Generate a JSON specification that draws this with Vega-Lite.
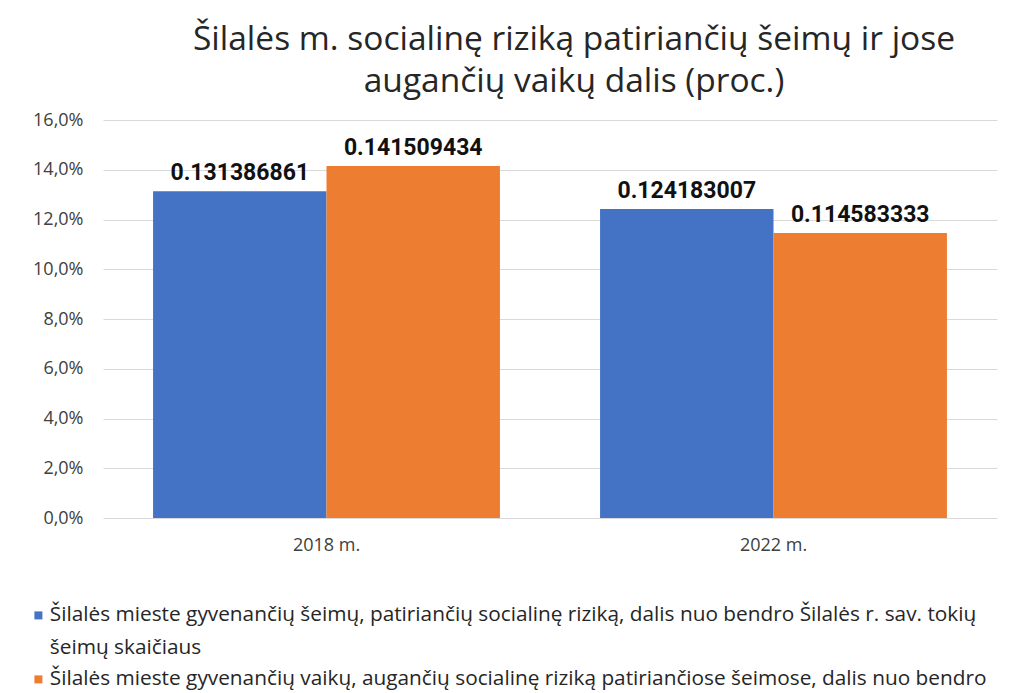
{
  "$schema": "https://vega.github.io/schema/vega-lite/v6.json",
  "autosize": "none",
  "width": 894,
  "height": 398,
  "padding": {"left": 103, "top": 120, "right": 22, "bottom": 175},
  "background": "white",
  "title": {
    "text": ["Šilalės m. socialinę riziką patiriančių šeimų ir jose", "augančių vaikų dalis (proc.)"],
    "font": "Open Sans",
    "fontSize": 33.5,
    "fontWeight": "normal",
    "color": "#262626",
    "anchor": "middle",
    "dx": 24,
    "offset": 12,
    "lineHeight": 42
  },
  "data": {
    "values": [
      {"metai": "2018 m.", "serija": "seimos", "dalis": 0.131386861},
      {"metai": "2018 m.", "serija": "vaikai", "dalis": 0.141509434},
      {"metai": "2022 m.", "serija": "seimos", "dalis": 0.124183007},
      {"metai": "2022 m.", "serija": "vaikai", "dalis": 0.114583333}
    ]
  },
  "config": {
    "view": {"stroke": null},
    "font": "Open Sans",
    "style": {"guide-label": {"lineHeight": 33}}
  },
  "encoding": {
    "x": {
      "field": "metai",
      "type": "nominal",
      "scale": {"paddingInner": 0.224, "paddingOuter": 0.112},
      "axis": {
        "title": null,
        "labelAngle": 0,
        "domain": false,
        "ticks": false,
        "labelFontSize": 18,
        "labelColor": "#404040",
        "labelPadding": 18
      }
    },
    "xOffset": {"field": "serija", "type": "nominal", "scale": {"domain": ["seimos", "vaikai"], "paddingInner": 0, "paddingOuter": 0}},
    "y": {
      "field": "dalis",
      "type": "quantitative",
      "scale": {"domain": [0, 0.16]},
      "axis": {
        "title": null,
        "values": [0, 0.02, 0.04, 0.06, 0.08, 0.1, 0.12, 0.14, 0.16],
        "labelExpr": "replace(format(datum.value, '.1%'), '.', ',')",
        "domain": false,
        "ticks": false,
        "labelFontSize": 18,
        "labelColor": "#404040",
        "labelPadding": 20,
        "gridColor": "#d9d9d9",
        "gridWidth": 1
      }
    }
  },
  "layer": [
    {
      "mark": {"type": "bar"},
      "encoding": {
        "color": {
          "field": "serija",
          "type": "nominal",
          "scale": {"domain": ["seimos", "vaikai"], "range": ["#4472C4", "#ED7D31"]},
          "legend": {
            "title": null,
            "orient": "none",
            "legendX": -75,
            "legendY": 485,
            "direction": "vertical",
            "symbolType": "square",
            "symbolSize": 64,
            "symbolStrokeWidth": 0,
            "labelFontSize": 20.8,
            "labelColor": "#262626",
            "labelLimit": 0,
            "labelOffset": 1,
            "rowPadding": 9,
            "labelExpr": "datum.label == 'seimos' ? ['Šilalės mieste gyvenančių šeimų, patiriančių socialinę riziką, dalis nuo bendro Šilalės r. sav. tokių', 'šeimų skaičiaus'] : ['Šilalės mieste gyvenančių vaikų, augančių socialinę riziką patiriančiose šeimose, dalis nuo bendro', 'Šilalės r. sav. tokių vaikų skaičiaus']"
          }
        }
      }
    },
    {
      "mark": {"type": "text", "dy": -6, "fontSize": 23, "fontWeight": "bold", "font": "Roboto", "color": "#111111", "baseline": "bottom"},
      "encoding": {
        "text": {"field": "dalis", "type": "nominal"}
      }
    }
  ]
}
